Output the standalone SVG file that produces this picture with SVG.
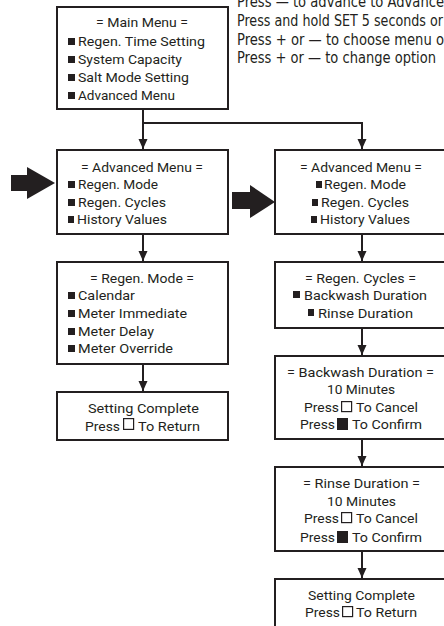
<svg xmlns="http://www.w3.org/2000/svg" width="444" height="626" viewBox="0 0 444 626">
<style>
.box{fill:#fff;stroke:#231f20;stroke-width:2}
.t{font-family:Roboto,"DejaVu Sans",sans-serif;font-size:13.3px;fill:#231f20}
.n{font-family:"Liberation Sans Narrow","DejaVu Sans Condensed","Liberation Sans",sans-serif;font-size:15px;fill:#231f20}
.b{fill:#231f20}
.o{fill:none;stroke:#231f20;stroke-width:1.2}
.c{fill:none;stroke:#231f20;stroke-width:2}
</style>
<defs>
<marker id="ah" markerUnits="userSpaceOnUse" markerWidth="10" markerHeight="10" refX="10" refY="4.5" orient="auto">
<path d="M0,0 L10,4.5 L0,9 z" fill="#231f20"/>
</marker>
</defs>
<rect width="444" height="626" fill="#fff"/>

<g id="instructions">
<text class="n" x="237" y="7" textLength="207" lengthAdjust="spacingAndGlyphs">Press — to advance to Advance</text>
<text class="n" x="237" y="26" textLength="206" lengthAdjust="spacingAndGlyphs">Press and hold SET 5 seconds or</text>
<text class="n" x="237" y="45" textLength="207" lengthAdjust="spacingAndGlyphs">Press + or — to choose menu o</text>
<text class="n" x="237" y="63" textLength="199" lengthAdjust="spacingAndGlyphs">Press + or — to change option</text>
</g>

<g id="connectors">
<path class="c" d="M143,109 V149" marker-end="url(#ah)"/>
<path class="c" d="M143,123 H362 V149" marker-end="url(#ah)"/>
<path class="c" d="M143,234 V261" marker-end="url(#ah)"/>
<path class="c" d="M143,364 V391" marker-end="url(#ah)"/>
<path class="c" d="M362,234 V261" marker-end="url(#ah)"/>
<path class="c" d="M362,328 V355" marker-end="url(#ah)"/>
<path class="c" d="M362,439 V466" marker-end="url(#ah)"/>
<path class="c" d="M362,551 V578" marker-end="url(#ah)"/>
</g>

<g id="pointer-left">
<rect class="b" x="11" y="175" width="17" height="16"/>
<polygon class="b" points="27,167 55,183 27,199"/>
</g>
<g id="pointer-right">
<rect class="b" x="232" y="192" width="19" height="17"/>
<polygon class="b" points="250,185 275,202 250,218"/>
</g>

<g id="main-menu">
<rect class="box" x="57" y="7" width="171" height="102"/>
<text class="t" x="96" y="27" textLength="92" lengthAdjust="spacingAndGlyphs">= Main Menu =</text>
<rect class="b" x="68" y="38" width="7" height="7"/>
<text class="t" x="78" y="46" textLength="127" lengthAdjust="spacingAndGlyphs">Regen. Time Setting</text>
<rect class="b" x="68" y="56" width="7" height="7"/>
<text class="t" x="78" y="64" textLength="104" lengthAdjust="spacingAndGlyphs">System Capacity</text>
<rect class="b" x="68" y="74" width="7" height="7"/>
<text class="t" x="78" y="82" textLength="111" lengthAdjust="spacingAndGlyphs">Salt Mode Setting</text>
<rect class="b" x="68" y="92" width="7" height="7"/>
<text class="t" x="78" y="100" textLength="97" lengthAdjust="spacingAndGlyphs">Advanced Menu</text>
</g>

<g id="advanced-menu-left">
<rect class="box" x="57" y="150" width="171" height="84"/>
<text class="t" x="81" y="172" textLength="122" lengthAdjust="spacingAndGlyphs">= Advanced Menu =</text>
<rect class="b" x="68" y="181" width="7" height="7"/>
<text class="t" x="78" y="189" textLength="80" lengthAdjust="spacingAndGlyphs">Regen. Mode</text>
<rect class="b" x="68" y="199" width="7" height="7"/>
<text class="t" x="78" y="207" textLength="88" lengthAdjust="spacingAndGlyphs">Regen. Cycles</text>
<rect class="b" x="68" y="216" width="6" height="7"/>
<text class="t" x="77" y="224" textLength="90" lengthAdjust="spacingAndGlyphs">History Values</text>
</g>

<g id="regen-mode">
<rect class="box" x="57" y="262" width="171" height="102"/>
<text class="t" x="90" y="283" textLength="104" lengthAdjust="spacingAndGlyphs">= Regen. Mode =</text>
<rect class="b" x="68" y="292" width="7" height="7"/>
<text class="t" x="78" y="300" textLength="57" lengthAdjust="spacingAndGlyphs">Calendar</text>
<rect class="b" x="68" y="310" width="7" height="7"/>
<text class="t" x="78" y="318" textLength="109" lengthAdjust="spacingAndGlyphs">Meter Immediate</text>
<rect class="b" x="68" y="328" width="7" height="7"/>
<text class="t" x="78" y="336" textLength="76" lengthAdjust="spacingAndGlyphs">Meter Delay</text>
<rect class="b" x="68" y="345" width="7" height="7"/>
<text class="t" x="78" y="353" textLength="95" lengthAdjust="spacingAndGlyphs">Meter Override</text>
</g>

<g id="setting-complete-left">
<rect class="box" x="57" y="392" width="171" height="48"/>
<text class="t" x="88" y="413" textLength="111" lengthAdjust="spacingAndGlyphs">Setting Complete</text>
<text class="t" x="85" y="431" textLength="35" lengthAdjust="spacingAndGlyphs">Press</text>
<rect class="o" x="123.6" y="418.6" width="10" height="10.8"/>
<text class="t" x="138" y="431" textLength="62" lengthAdjust="spacingAndGlyphs">To Return</text>
</g>

<g id="advanced-menu-right">
<rect class="box" x="275" y="150" width="173" height="84"/>
<text class="t" x="300" y="172" textLength="122" lengthAdjust="spacingAndGlyphs">= Advanced Menu =</text>
<rect class="b" x="316" y="181" width="6" height="7"/>
<text class="t" x="324" y="189" textLength="82" lengthAdjust="spacingAndGlyphs">Regen. Mode</text>
<rect class="b" x="312" y="199" width="6" height="7"/>
<text class="t" x="321" y="207" textLength="88" lengthAdjust="spacingAndGlyphs">Regen. Cycles</text>
<rect class="b" x="311" y="216" width="6" height="7"/>
<text class="t" x="320" y="224" textLength="90" lengthAdjust="spacingAndGlyphs">History Values</text>
</g>

<g id="regen-cycles">
<rect class="box" x="275" y="262" width="173" height="66"/>
<text class="t" x="305" y="283" textLength="111" lengthAdjust="spacingAndGlyphs">= Regen. Cycles =</text>
<rect class="b" x="293" y="291" width="7" height="7"/>
<text class="t" x="304" y="300" textLength="123" lengthAdjust="spacingAndGlyphs">Backwash Duration</text>
<rect class="b" x="308" y="309" width="6" height="7"/>
<text class="t" x="318" y="318" textLength="95" lengthAdjust="spacingAndGlyphs">Rinse Duration</text>
</g>

<g id="backwash-duration">
<rect class="box" x="275" y="356" width="173" height="83"/>
<text class="t" x="287" y="377" textLength="147" lengthAdjust="spacingAndGlyphs">= Backwash Duration =</text>
<text class="t" x="327" y="394" textLength="68" lengthAdjust="spacingAndGlyphs">10 Minutes</text>
<text class="t" x="304" y="412" textLength="35" lengthAdjust="spacingAndGlyphs">Press</text>
<rect class="o" x="341.6" y="401.6" width="10" height="10"/>
<text class="t" x="356" y="412" textLength="62" lengthAdjust="spacingAndGlyphs">To Cancel</text>
<text class="t" x="300" y="429" textLength="35" lengthAdjust="spacingAndGlyphs">Press</text>
<rect class="b" x="337" y="418" width="11" height="12"/>
<text class="t" x="352" y="429" textLength="70" lengthAdjust="spacingAndGlyphs">To Confirm</text>
</g>

<g id="rinse-duration">
<rect class="box" x="275" y="467" width="173" height="84"/>
<text class="t" x="303" y="488" textLength="117" lengthAdjust="spacingAndGlyphs">= Rinse Duration =</text>
<text class="t" x="327" y="506" textLength="69" lengthAdjust="spacingAndGlyphs">10 Minutes</text>
<text class="t" x="304" y="523" textLength="35" lengthAdjust="spacingAndGlyphs">Press</text>
<rect class="o" x="341.6" y="512.6" width="10" height="10"/>
<text class="t" x="356" y="523" textLength="62" lengthAdjust="spacingAndGlyphs">To Cancel</text>
<text class="t" x="300" y="542" textLength="35" lengthAdjust="spacingAndGlyphs">Press</text>
<rect class="b" x="337" y="531" width="11" height="12"/>
<text class="t" x="352" y="542" textLength="70" lengthAdjust="spacingAndGlyphs">To Confirm</text>
</g>

<g id="setting-complete-right">
<rect class="box" x="275" y="579" width="173" height="60"/>
<text class="t" x="308" y="600" textLength="107" lengthAdjust="spacingAndGlyphs">Setting Complete</text>
<text class="t" x="305" y="617" textLength="35" lengthAdjust="spacingAndGlyphs">Press</text>
<rect class="o" x="342.6" y="606.6" width="10" height="10"/>
<text class="t" x="356" y="617" textLength="61" lengthAdjust="spacingAndGlyphs">To Return</text>
</g>
</svg>
